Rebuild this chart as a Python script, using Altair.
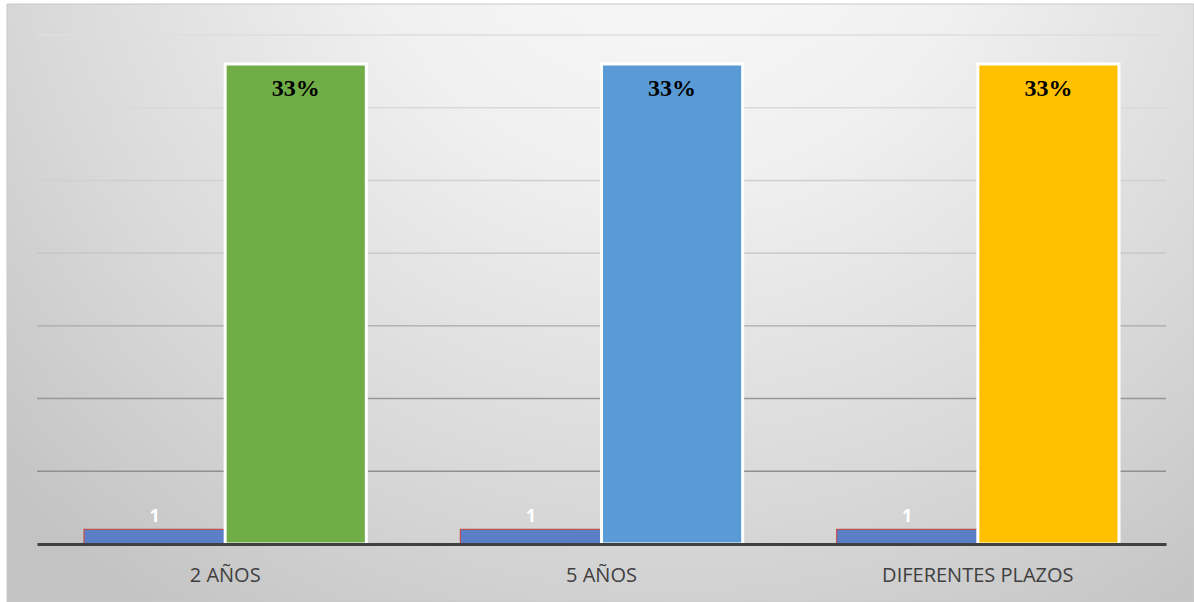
import altair as alt
import pandas as pd

# Categories and series values
categorias = ["2 AÑOS", "5 AÑOS", "DIFERENTES PLAZOS"]
frecuencia = [1, 1, 1]
porcentaje = [33, 33, 33]

# Colours of the percentage bars, one per category
colores_pct = ["#70ad47", "#5b9bd5", "#ffc000"]

# Horizontal reference lines and their shades (darker towards the base)
lineas = [5, 10, 15, 20, 25, 30, 35]
tonos_lineas = ["#8f8f8f", "#979797", "#a9a9a9", "#c4c4c4", "#d0d0d0", "#d9d9d9", "#dedede"]

W, H = 1129, 509
Y_MAX = 35

filas = []
for c, f, p in zip(categorias, frecuencia, porcentaje):
    filas.append({"categoria": c, "serie": "frecuencia", "valor": f, "etiqueta": str(f)})
    filas.append({"categoria": c, "serie": "porcentaje", "valor": p, "etiqueta": f"{p}%"})
df = pd.DataFrame(filas)
df_lineas = pd.DataFrame({"g": lineas})

y_scale = alt.Scale(domain=[0, Y_MAX], nice=False, zero=True)
x_enc = alt.X(
    "categoria:N",
    sort=categorias,
    scale=alt.Scale(paddingInner=0, paddingOuter=0),
    axis=alt.Axis(
        title=None,
        ticks=False,
        tickSize=0,
        labelAngle=0,
        labelFont="Open Sans",
        labelFontSize=20,
        labelColor="#404040",
        labelPadding=31,
        labelBaseline="middle",
        labelLimit=0,
        domainColor="#404040",
        domainWidth=3,
        zindex=1,
    ),
)
xo_enc = alt.XOffset(
    "serie:N",
    sort=["frecuencia", "porcentaje"],
    scale=alt.Scale(domain=["frecuencia", "porcentaje"], paddingInner=0, paddingOuter=0.333),
)

# Gray radial backdrop of the chart box
fondo_grad = {
    "gradient": "radial",
    "x1": 0.56, "y1": 0.12, "r1": 0,
    "x2": 0.56, "y2": 0.12, "r2": 0.78,
    "stops": [
        {"offset": 0.0, "color": "#fbfbfb"},
        {"offset": 0.35, "color": "#f0f0f0"},
        {"offset": 0.7, "color": "#d9d9d9"},
        {"offset": 1.0, "color": "#c3c3c3"},
    ],
}
fondo = alt.Chart(df_lineas).mark_rect(fill=fondo_grad, stroke="#c8c8c8", strokeWidth=1).encode(
    x=alt.value(-30), x2=alt.value(1157), y=alt.value(-31), y2=alt.value(567)
).transform_filter(alt.datum.g == 5)

grid = alt.Chart(df_lineas).mark_rule(strokeWidth=1.4).encode(
    y=alt.Y("g:Q", scale=y_scale, axis=None),
    color=alt.Color("g:O", scale=alt.Scale(domain=lineas, range=tonos_lineas), legend=None),
)

base = alt.Chart(df)

barras_frec = base.transform_filter(alt.datum.serie == "frecuencia").mark_bar(
    fill="#5a7fc6", stroke="#c0504d", strokeWidth=1.2
).encode(x=x_enc, xOffset=xo_enc, y=alt.Y("valor:Q", scale=y_scale, axis=None))

barras_pct = base.transform_filter(alt.datum.serie == "porcentaje").mark_bar(
    stroke="white", strokeWidth=3
).encode(
    x=x_enc,
    xOffset=xo_enc,
    y=alt.Y("valor:Q", scale=y_scale, axis=None),
    fill=alt.Fill("categoria:N", scale=alt.Scale(domain=categorias, range=colores_pct), legend=None),
)

texto_pct = base.transform_filter(alt.datum.serie == "porcentaje").mark_text(
    font="Liberation Serif", fontWeight="bold", fontSize=24, color="black", baseline="middle", dy=25
).encode(x=x_enc, xOffset=xo_enc, y=alt.Y("valor:Q", scale=y_scale, axis=None), text="etiqueta:N")

texto_frec = base.transform_filter(alt.datum.serie == "frecuencia").mark_text(
    font="Open Sans", fontWeight="bold", fontSize=18, color="white", baseline="middle", dy=-12
).encode(x=x_enc, xOffset=xo_enc, y=alt.Y("valor:Q", scale=y_scale, axis=None), text="etiqueta:N")

chart = alt.layer(fondo, grid, barras_frec, barras_pct, texto_pct, texto_frec).properties(
    width=W,
    height=H,
    autosize=alt.AutoSizeParams(type="none"),
    padding={"left": 37, "top": 35, "right": 28, "bottom": 58},
    background="white",
).configure_view(stroke=None)

chart.save("out.html", embed_options={"renderer": "svg", "actions": False})
